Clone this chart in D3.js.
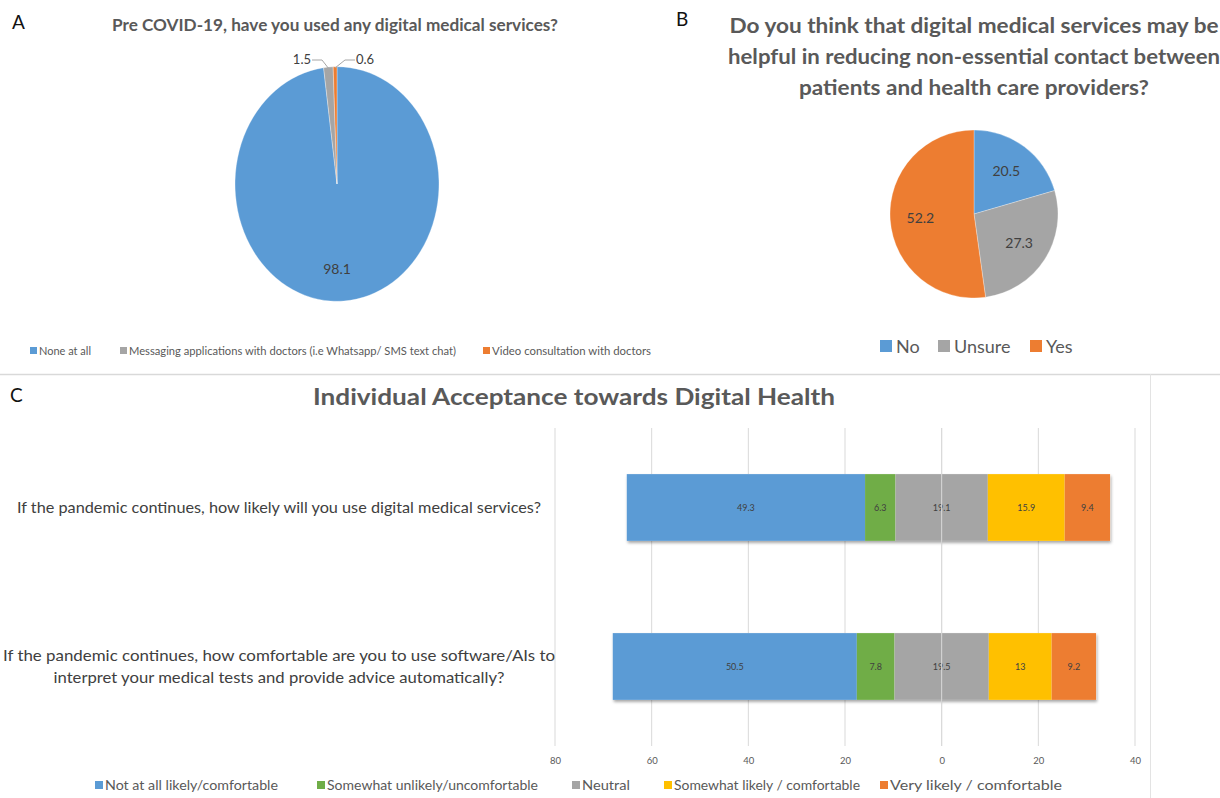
<!DOCTYPE html>
<html><head><meta charset="utf-8">
<script src="https://cdn.jsdelivr.net/npm/d3@7"></script>
<style>
html,body{margin:0;padding:0;background:#fff;}
svg{display:block;font-family:Lato,"Open Sans",sans-serif;}
</style></head>
<body>
<svg id="c" width="1220" height="798"></svg>
<script>
// ---------- data ----------
const pieACategories = ["None at all", "Messaging applications with doctors (i.e Whatsapp/ SMS text chat)", "Video consultation with doctors"];
const pieAValues = [98.1, 1.5, 0.6];
const pieAColors = ["#5B9BD5", "#A5A5A5", "#ED7D31"];

const pieBCategories = ["No", "Unsure", "Yes"];
const pieBValues = [20.5, 27.3, 52.2];
const pieBColors = ["#5B9BD5", "#A5A5A5", "#ED7D31"];

const barQuestions = [
  ["If the pandemic continues, how likely will you use digital medical services?"],
  ["If the pandemic continues, how comfortable are you to use software/AIs to", "interpret your medical tests and provide advice automatically?"]
];
const barSeries = ["Not at all likely/comfortable", "Somewhat unlikely/uncomfortable", "Neutral", "Somewhat likely / comfortable", "Very likely / comfortable"];
const barColors = ["#5B9BD5", "#70AD47", "#A5A5A5", "#FFC000", "#ED7D31"];
const barValues = [
  [49.3, 6.3, 19.1, 15.9, 9.4],
  [50.5, 7.8, 19.5, 13, 9.2]
];
const barTicks = [-80, -60, -40, -20, 0, 20, 40];

const svg = d3.select("#c");
const txt = "#595959";

// ---------- frame lines ----------
svg.append("line").attr("x1",0).attr("x2",1220).attr("y1",374.5).attr("y2",374.5).attr("stroke","#d9d9d9").attr("stroke-width",1.5);
svg.append("line").attr("x1",1150.5).attr("x2",1150.5).attr("y1",374).attr("y2",798).attr("stroke","#e3e3e3").attr("stroke-width",1);

// panel letters
[["A",12,29],["B",676,26],["C",10,402]].forEach(d=>{
  svg.append("text").attr("x",d[1]).attr("y",d[2]).text(d[0]).attr("font-size",19).attr("fill","#111");
});

// ---------- Panel A ----------
svg.append("text").attr("x",335).attr("y",31).attr("text-anchor","middle")
  .attr("font-size",17).attr("font-weight","bold").attr("fill",txt)
  .attr("textLength",446).attr("lengthAdjust","spacingAndGlyphs")
  .text("Pre COVID-19, have you used any digital medical services?");

const cxA = 337, cyA = 184, rA = 102, syA = 1.15;
const pieGen = d3.pie().sort(null).value(d=>d);
const arcsA = pieGen(pieAValues);
const gA = svg.append("g").attr("transform",`translate(${cxA},${cyA}) scale(1,${syA})`);
const arcA = d3.arc().innerRadius(0).outerRadius(rA);
gA.selectAll("path").data(arcsA).join("path").attr("d",arcA).attr("fill",(d,i)=>pieAColors[i])
  .attr("stroke","#fff").attr("stroke-width",0.3);
svg.append("text").attr("x",cxA).attr("y",274).attr("text-anchor","middle").attr("font-size",14).attr("fill","#404040").text(pieAValues[0]);
// leader labels for small slices
const labA = [{i:1, tx:312, ty:64, anchor:"end"}, {i:2, tx:355, ty:64, anchor:"start"}];
labA.forEach(l=>{
  const a = arcsA[l.i];
  const mid = (a.startAngle+a.endAngle)/2;
  const px = cxA + Math.sin(mid)*rA*0.99;
  const py = cyA - Math.cos(mid)*rA*syA*0.99;
  svg.append("polyline").attr("points",`${l.tx},${l.ty-4} ${l.anchor==="end"?l.tx+10:l.tx-10},${l.ty-4} ${px},${py}`)
    .attr("fill","none").attr("stroke","#a6a6a6").attr("stroke-width",1);
  svg.append("text").attr("x",l.anchor==="end"?l.tx-1:l.tx+1).attr("y",l.ty).attr("text-anchor",l.anchor)
    .attr("font-size",13).attr("fill","#404040").text(pieAValues[l.i]);
});
// legend A
const legAx = [30, 120, 483];
const legAw = [52, 327, 159];
pieACategories.forEach((c,i)=>{
  svg.append("rect").attr("x",legAx[i]).attr("y",347).attr("width",7).attr("height",7).attr("fill",pieAColors[i]);
  svg.append("text").attr("x",legAx[i]+9).attr("y",355).attr("font-size",11.5).attr("fill",txt)
    .attr("textLength",legAw[i]).attr("lengthAdjust","spacingAndGlyphs").text(c);
});

// ---------- Panel B ----------
const titleB = ["Do you think that digital medical services may be","helpful in reducing non-essential contact between","patients and health care providers?"];
const titleBW = [489, 492, 350];
titleB.forEach((t,i)=>{
  svg.append("text").attr("x",974).attr("y",33+i*31).attr("text-anchor","middle")
    .attr("font-size",21).attr("font-weight","bold").attr("fill",txt)
    .attr("textLength",titleBW[i]).attr("lengthAdjust","spacingAndGlyphs").text(t);
});
const cxB = 974, cyB = 214, rB = 84;
const arcsB = pieGen(pieBValues);
const gB = svg.append("g").attr("transform",`translate(${cxB},${cyB})`);
const arcB = d3.arc().innerRadius(0).outerRadius(rB);
gB.selectAll("path").data(arcsB).join("path").attr("d",arcB).attr("fill",(d,i)=>pieBColors[i])
  .attr("stroke","#fff").attr("stroke-width",0.3);
const labArcB = d3.arc().innerRadius(rB*0.64).outerRadius(rB*0.64);
gB.selectAll("text").data(arcsB).join("text")
  .attr("transform",d=>`translate(${labArcB.centroid(d)})`)
  .attr("dy","0.35em").attr("text-anchor","middle").attr("font-size",14).attr("fill","#404040")
  .text((d,i)=>pieBValues[i]);
// legend B
const legBx = [880, 938, 1030];
pieBCategories.forEach((c,i)=>{
  svg.append("rect").attr("x",legBx[i]).attr("y",340).attr("width",12).attr("height",12).attr("fill",pieBColors[i]);
  svg.append("text").attr("x",legBx[i]+16).attr("y",353).attr("font-size",18).attr("fill",txt).text(c);
});

// ---------- Panel C ----------
svg.append("text").attr("x",574).attr("y",405).attr("text-anchor","middle")
  .attr("font-size",22).attr("font-weight","bold").attr("fill",txt)
  .attr("textLength",522).attr("lengthAdjust","spacingAndGlyphs")
  .text("Individual Acceptance towards Digital Health");

const x = d3.scaleLinear().domain([-80,40]).range([555,1135]);
const y = d3.scaleBand().domain(d3.range(barValues.length)).range([428,746]).paddingInner(0.58).paddingOuter(0.29);
// grid
svg.append("g").selectAll("line").data(barTicks).join("line")
  .attr("x1",d=>x(d)).attr("x2",d=>x(d)).attr("y1",428).attr("y2",746)
  .attr("stroke","#d9d9d9").attr("stroke-width",1);
// axis
const ax = svg.append("g").attr("transform","translate(0,746)")
  .call(d3.axisBottom(x).tickValues(barTicks).tickFormat(d=>Math.abs(d)).tickSize(0).tickPadding(11));
ax.select(".domain").remove();
ax.selectAll("text").attr("font-size",9.5).attr("fill",txt).attr("font-family","Lato");

// shadow filter
const defs = svg.append("defs");
const f = defs.append("filter").attr("id","sh").attr("x","-5%").attr("y","-10%").attr("width","110%").attr("height","130%");
f.append("feDropShadow").attr("dx",1).attr("dy",2).attr("stdDeviation",1.5).attr("flood-color","#000").attr("flood-opacity",0.35);

barValues.forEach((row,r)=>{
  const start = -(row[0]+row[1]+row[2]/2);
  let acc = start;
  const segs = row.map((v,i)=>{const s={x0:acc,x1:acc+v,v,i}; acc+=v; return s;});
  const g = svg.append("g");
  g.append("rect").attr("x",x(segs[0].x0)).attr("y",y(r)).attr("width",x(segs[4].x1)-x(segs[0].x0)).attr("height",y.bandwidth())
    .attr("fill","#fff").attr("filter","url(#sh)");
  g.selectAll("rect.seg").data(segs).join("rect").attr("class","seg")
    .attr("x",d=>x(d.x0)).attr("y",y(r)).attr("width",d=>x(d.x1)-x(d.x0)).attr("height",y.bandwidth())
    .attr("fill",d=>barColors[d.i]);
  g.selectAll("text").data(segs).join("text")
    .attr("x",d=>(x(d.x0)+x(d.x1))/2).attr("y",y(r)+y.bandwidth()/2).attr("dy","0.35em")
    .attr("text-anchor","middle").attr("font-size",9).attr("fill","#404040").text(d=>d.v);
});
// zero grid line drawn over bars (as in reference)
svg.append("line").attr("x1",x(0)).attr("x2",x(0)).attr("y1",428).attr("y2",746).attr("stroke","#d9d9d9").attr("stroke-width",1);

// question labels
const qW = [[524],[552,451]];
barQuestions.forEach((lines,r)=>{
  const cy = y(r)+y.bandwidth()/2;
  lines.forEach((t,k)=>{
    svg.append("text").attr("x",279).attr("y",cy + (k-(lines.length-1)/2)*22).attr("dy","0.35em")
      .attr("text-anchor","middle").attr("font-size",15).attr("fill","#404040")
      .attr("textLength",qW[r][k]).attr("lengthAdjust","spacingAndGlyphs").text(t);
  });
});

// legend C
const legCx = [95, 317, 572, 664, 880];
const legCw = [173, 211, 48, 186, 172];
barSeries.forEach((s,i)=>{
  svg.append("rect").attr("x",legCx[i]).attr("y",781).attr("width",8).attr("height",8).attr("fill",barColors[i]);
  svg.append("text").attr("x",legCx[i]+10).attr("y",790).attr("font-size",13).attr("fill",txt)
    .attr("textLength",legCw[i]).attr("lengthAdjust","spacingAndGlyphs").text(s);
});
</script>
</body></html>
